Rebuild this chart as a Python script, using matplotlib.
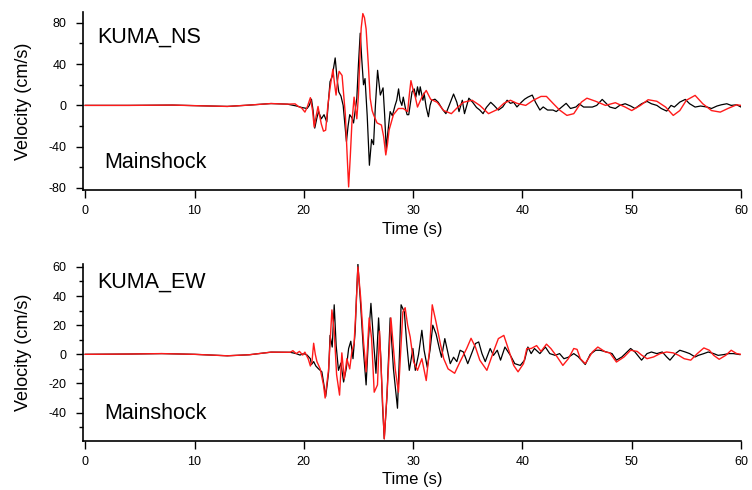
import matplotlib
matplotlib.use("Agg")
import matplotlib.pyplot as plt
from matplotlib.ticker import MultipleLocator

plt.rcParams['font.family'] = ['Liberation Sans', 'DejaVu Sans']
plt.rcParams['axes.unicode_minus'] = False

# --- KUMA_NS, mainshock (time in s, velocity in cm/s) ---
ns_black_t = [0, 4, 8, 11, 13, 15, 17, 18.5, 19.3, 19.8, 20.3, 20.5, 20.7, 20.85, 21.0, 21.2,
              21.35, 21.6, 21.85, 22.1, 22.4, 22.6, 22.87, 23.05, 23.2, 23.4, 23.6, 23.75, 23.9,
              24.05, 24.2, 24.4, 24.55, 24.7, 24.85, 25.0, 25.16, 25.3, 25.46, 25.6, 25.8, 26.0,
              26.2, 26.38, 26.55, 26.75, 26.9, 27.0, 27.25, 27.4, 27.54, 27.7, 27.9, 28.1, 28.35,
              28.5, 28.67, 28.8, 28.97, 29.1, 29.3, 29.45, 29.6, 29.75, 29.9, 30.1, 30.25, 30.4,
              30.55, 30.65, 30.9, 31.0, 31.2, 31.4, 31.55, 31.7, 32.0, 32.3, 32.7, 33.0, 33.3,
              33.7, 34.0, 34.2, 34.5, 34.7, 35.1, 35.45, 35.8, 36.1, 36.4, 36.7, 37.1, 37.4,
              37.8, 38.2, 38.6, 38.9, 39.2, 39.5, 39.9, 40.2, 40.5, 40.9, 41.2, 41.6, 41.9, 42.3,
              42.8, 43.1, 43.6, 44.0, 44.4, 44.9, 45.2, 45.6, 46.4, 46.8, 47.3, 47.7, 48.0, 48.5,
              48.9, 49.4, 49.9, 50.3, 50.9, 51.4, 51.8, 52.3, 52.7, 53.2, 53.6, 53.9, 54.4, 54.9,
              55.3, 55.8, 56.3, 56.9, 57.3, 57.8, 58.2, 58.7, 59.1, 59.6, 60.0]
ns_black_v = [0, 0, 0.3, -0.5, -1, 0.3, 1.8, 1.2, -0.5, -2, -3, 0, 6, -5, -22, -12,
              -6, -13, -9, -16, 23, 28, 46, 25, 13, 9, 0, -18, -35,
              -20, -9, -12, -17, -5, 7, 40, 70, 45, 20, 26, -10, -58,
              -33, -38, 0, 34, 20, 10, 17, -10, -42, -25, -6, -10, 0,
              5, 16, 5, 0, 8, -3, -9, -9, 2, 13, 16, 8, 18,
              10, 18, 5, 12, -2, -11, 0, 5, 6, 3, -4, -8, 0,
              11, 3, -6, 5, -8, 7, 3, -2, -4.5, -8, -2, 3, 0,
              -4.5, -1.5, 5, 2, 3, -1.5, 3, 6, 8, 10, 3, -4.5, -1.5, -4.5,
              -4.5, -6, -1.5, 2, -3, -1.5, 1.5, -1.6, -1.6, 0, 5.8, 1.6, -1.6, -3,
              0, 1.6, -0.6, -3, 1.6, 3.9, 1.6, 0, -3, -5.5, 0, -1.6, 3.2, 5.8,
              1.6, -1.6, -0.6, -1.6, -3, -0.6, 0.6, 1.6, 0, 0.6, -1.6]

ns_red_t = [0, 4, 8, 11, 13, 15, 17, 18.5, 19.2, 19.5, 19.8, 20.1, 20.3, 20.6, 20.8, 20.95,
            21.1, 21.3, 21.45, 21.6, 21.8, 22.0, 22.2, 22.4, 22.66, 22.8, 22.95, 23.1, 23.23,
            23.5, 23.65, 23.8, 23.95, 24.1, 24.25, 24.4, 24.6, 24.75, 24.85, 25.0, 25.1, 25.25,
            25.4, 25.55, 25.7, 25.9, 26.07, 26.25, 26.38, 26.7, 27.1, 27.3, 27.5, 27.65, 27.8,
            28.2, 28.65, 29.1, 29.5, 29.65, 29.8, 30.0, 30.2, 30.4, 30.8, 31.2, 31.6, 32.2,
            32.8, 33.5, 34.1, 34.6, 35.4, 36.1, 36.9, 37.7, 38.3, 38.9, 39.5, 40.3, 41.0, 41.7,
            42.2, 42.8, 43.4, 44.07, 44.7, 45.4, 45.9, 46.7, 47.6, 48.5, 49.4, 50.0, 50.8, 51.5,
            52.3, 53.1, 53.8, 54.4, 55.0, 55.8, 56.5, 57.3, 58.1, 58.8, 59.6, 60.0]
ns_red_v = [0, 0, 0.3, -0.5, -1, 0.3, 1.8, 1.2, 1.5, -1, -2.5, -6.5, -2, 7.5, -5, -21,
            -12, -1, -10, -18, -25, -24, 0, 17, 35, 22, 10, 25, 33,
            29, 10, -9, -45, -79, -50, -17, 8, -5, -13, 10, 38, 75,
            89, 85, 74, 40, 7, -5, -9, -17, -19, -30, -48, -38, -24,
            -9, -3, -3, -6, 10, 24, 15, 8, -1.6, 8, 14.5, 6, 3,
            -5, -8, -1.6, 3, 5, 0, -8, -4, 2, 5, 2, 0, 5, 8.7,
            8.7, 2, -4.5, -9.7, -8, 3.2, 7, 4, 0, 2.6, -1.6, -5, 0, 5.5,
            4, -1.6, -9.7, -5, 5, 9.7, 1.6, -5, -6.5, -3, 0.6, 0]

# --- KUMA_EW, mainshock ---
ew_black_t = [0, 4, 7, 10, 13, 15, 17, 18.75, 19.3, 19.65, 20.0, 20.3, 20.6, 20.7, 20.9, 21.1,
              21.35, 21.65, 21.8, 22.0, 22.15, 22.27, 22.4, 22.6, 22.78, 22.96, 23.17, 23.39,
              23.64, 23.88, 24.1, 24.3, 24.5, 24.7, 24.82, 24.95, 25.2, 25.46, 25.7, 25.9, 26.14,
              26.38, 26.6, 26.84, 27.05, 27.2, 27.36, 27.6, 27.9, 28.2, 28.57, 28.75, 28.9, 29.2,
              29.4, 29.65, 29.73, 29.98, 30.2, 30.5, 30.8, 31.0, 31.3, 31.55, 31.8, 32.1, 32.4,
              32.6, 32.9, 33.1, 33.4, 33.7, 34.0, 34.3, 34.6, 35.0, 35.4, 35.7, 36.0, 36.3, 36.6,
              37.05, 37.35, 37.7, 38.0, 38.4, 38.9, 39.3, 39.8, 40.2, 40.5, 40.8, 41.1, 41.6,
              42.1, 42.5, 43.0, 43.4, 43.8, 44.2, 44.7, 45.1, 45.75, 46.2, 46.7, 47.1, 47.7, 48.2,
              48.6, 49.1, 49.9, 50.3, 50.9, 51.4, 51.8, 52.3, 52.8, 53.2, 53.5, 54.0, 54.4, 54.9,
              55.3, 55.8, 56.1, 56.6, 57.0, 57.5, 57.9, 58.4, 58.9, 59.3, 59.9]
ew_black_v = [0, 0.2, 0.5, 0, -1, -0.3, 1.5, 1.4, 0.5, -0.5, 0.5, -0.5, -3, -7, -5, -8,
              -10, -12, -19, -29, -20, -12, 13, 5, 34, 6, -11, -6,
              -19, -10, 4, 9, -3, 16, 40, 62, 34, 2, -21, 9, 35,
              9, -13, 25, -3, -35, -58, -30, 25, -10, -37, 0, 34, 29,
              9, -11, -7.6, 4, -11, 0, 16.5, 3, -9, 3, 20, 14, 4,
              -2, 10.8, 4, -6.4, -2, -5, 2.8, 1.6, -6.4, 1.6, 7.4, 8.5, 0.5, -5,
              4, -0.7, 2.8, -4, 5, -0.7, -6.4, -7.6, -4, 5, 0.5, 4, 0.5,
              5, 0.5, -0.7, 0.5, -3, -2, 0.5, -1.6, -7, 0, 2.8, 2.8, 1.6, 0.5,
              -4, -1.8, 4, 1.6, -4, 0.5, 1.6, 0.5, 1.6, -1.8, -4, 0.5, 2.8, 1.6,
              0.5, -1.8, -0.7, 0.5, 1.6, 0.5, -0.7, -0.2, 0.5, 0.5, -0.2]

ew_red_t = [0, 4, 7, 10, 13, 15, 17, 18.75, 19.0, 19.3, 19.6, 19.9, 20.1, 20.4, 20.6, 20.75,
            20.9, 21.05, 21.2, 21.5, 21.8, 21.95, 22.27, 22.57, 22.78, 23.0, 23.27, 23.48, 23.7,
            23.94, 24.2, 24.4, 24.6, 24.8, 24.95, 25.2, 25.46, 25.7, 25.98, 26.2, 26.44, 26.74,
            26.93, 27.14, 27.36, 27.66, 27.97, 28.36, 28.66, 29.06, 29.27, 29.5, 29.73, 30.04,
            30.4, 30.8, 31.2, 31.5, 31.75, 32.1, 32.5, 32.8, 33.2, 33.8, 34.3, 34.9, 35.3, 35.7,
            36.1, 36.75, 37.4, 37.8, 38.3, 38.7, 39.2, 39.6, 40.1, 40.4, 40.8, 41.3, 41.7, 42.2,
            42.6, 43.2, 43.7, 44.2, 44.7, 45.0, 45.3, 45.75, 46.4, 46.9, 47.6, 48.0, 48.6, 49.3,
            49.9, 50.5, 50.9, 51.4, 52.0, 52.6, 53.2, 53.8, 54.3, 54.8, 55.4, 56.0, 56.6, 57.1,
            57.5, 58.0, 58.6, 59.1, 59.6, 60.0]
ew_red_v = [0, 0.2, 0.5, 0, -1, -0.3, 1.5, 1.4, 2.5, 0.5, 2, -0.5, 1.5, -3, -8, -5,
            7.6, 0, -5, -10, -21, -30, -10, 30.5, 16, -14, -28, 1, -17,
            -3, -10, 2, 7.6, 35, 60, 39, 9, -12, 25, 11, -26, -21,
            16, -21, -58, -21, 25, -10, -26, 29, 32, 20, 12, -5,
            -11, -3, -18, 3, 34, 22, 7, -3, -10, -13, -5, 4, 11, 5,
            -4, -11, 2.8, 10.8, 13, 4, -7.6, -12, -6.4, 4, 4, 6, 2, 7,
            4, -2, -7.6, -3, 4, 3.4, -3, -6.4, 1.6, 5, 1.6, 1, -5.3, -1.8,
            2.8, 2, -0.5, -3, -1.8, 0.5, 1.6, 1, -0.7, -3, -4, 0.5, 4.4, 2.8,
            -0.7, -3.4, -0.7, 2.8, 0.5, 0]

panels = [
    ("KUMA_NS", ns_black_t, ns_black_v, ns_red_t, ns_red_v, (-82, 90.5), 40, 20, 61, -61),
    ("KUMA_EW", ew_black_t, ew_black_v, ew_red_t, ew_red_v, (-59.5, 62), 20, 10, 45.5, -44.7),
]
axes_rects = [[0.1104, 0.6122, 0.875, 0.3633], [0.1104, 0.100, 0.875, 0.3612]]
xlabel_y = [-0.18, -0.175]

fig = plt.figure(figsize=(7.52, 4.90), dpi=100)

for rect, p, xly in zip(axes_rects, panels, xlabel_y):
    name, bt, bv, rt, rv, ylim, major, minor, name_y, main_y = p
    ax = fig.add_axes(rect)
    ax.plot(bt, bv, color='black', lw=0.9)
    ax.plot(rt, rv, color='#ff1a1a', lw=1.0)

    ax.set_xlim(-0.2, 60)
    ax.set_ylim(*ylim)
    ax.xaxis.set_major_locator(MultipleLocator(10))
    ax.yaxis.set_major_locator(MultipleLocator(major))
    ax.yaxis.set_minor_locator(MultipleLocator(minor))

    for s in ['top', 'right']:
        ax.spines[s].set_visible(False)
    for s in ['left', 'bottom']:
        ax.spines[s].set_linewidth(1.2)

    ax.tick_params(axis='x', direction='out', length=6, width=1, pad=5, labelsize=9)
    ax.tick_params(axis='y', which='major', direction='out', length=5, width=1, pad=7, labelsize=9)
    ax.tick_params(axis='y', which='minor', direction='out', length=3, width=1)

    ax.set_xlabel("Time (s)", fontsize=12)
    ax.xaxis.set_label_coords(0.5, xly)
    ax.set_ylabel("Velocity (cm/s)", fontsize=13)
    ax.yaxis.set_label_coords(-0.0775, 0.5)

    ax.text(1.1, name_y, name, fontsize=15.5, va='baseline', ha='left')
    ax.text(1.7, main_y, "Mainshock", fontsize=15.5, va='baseline', ha='left')

fig.savefig("out.png", dpi=100)
